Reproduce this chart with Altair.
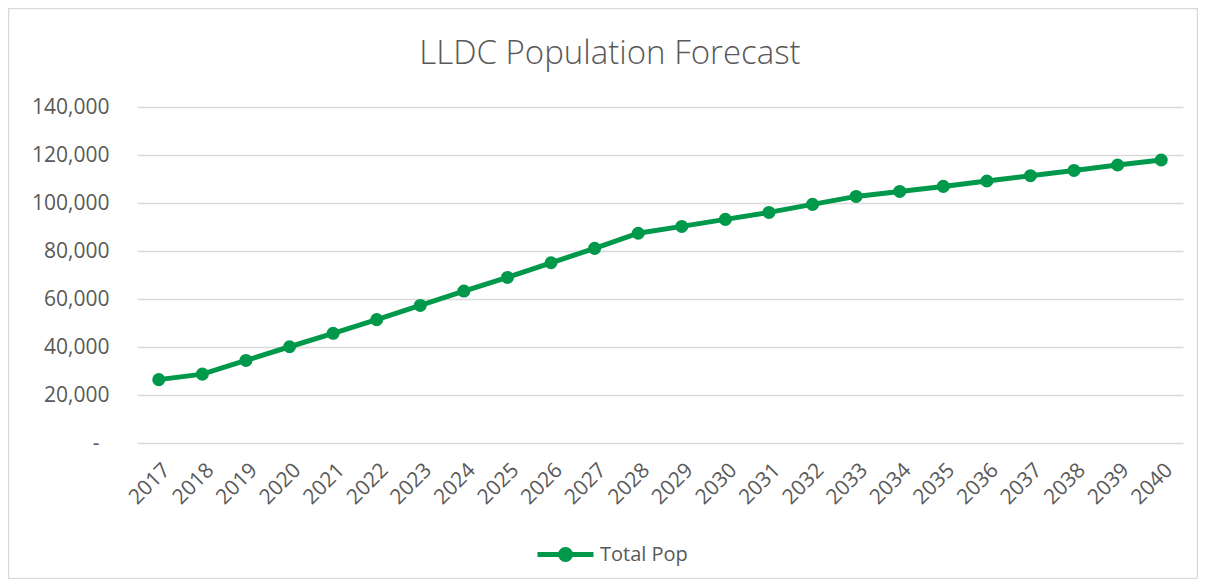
import altair as alt
import pandas as pd

years = [str(y) for y in range(2017, 2041)]
total_pop = [26400, 28700, 34400, 40100, 45700, 51400, 57300, 63300, 69000, 75100,
             81100, 87400, 90250, 93170, 96080, 99420, 102750, 104830, 106920, 109170,
             111375, 113580, 115830, 117920]
series = ["Total Pop"] * len(years)

df = pd.DataFrame({"Year": years, "Population": total_pop, "Series": series})

GREEN = "#00984A"
GREY = "#595959"
FONT = "Open Sans"

legend_path = "M-1,0H1M0.18,0A0.18,0.18,0,1,1,-0.18,0A0.18,0.18,0,1,1,0.18,0Z"

base = alt.Chart(df).encode(
    x=alt.X("Year:O", sort=years,
            scale=alt.Scale(type="point", padding=0.5),
            axis=alt.Axis(title=None, labelAngle=-45, labelAlign="right",
                          labelBaseline="top", labelPadding=16, ticks=False,
                          domain=False, grid=False, labelFontSize=21, labelColor=GREY,
                          labelFont=FONT)),
    y=alt.Y("Population:Q",
            scale=alt.Scale(domain=[0, 140000], nice=False),
            axis=alt.Axis(title=None, values=[0, 20000, 40000, 60000, 80000, 100000, 120000, 140000],
                          labelExpr="datum.value == 0 ? '-' : format(datum.value, ',')",
                          ticks=False, domain=False,
                          labelPadding={"condition": {"test": "datum.value === 0", "value": 38},
                                        "value": 28},
                          labelFontSize=21,
                          labelColor=GREY, labelFont=FONT,
                          gridColor="#D9D9D9", gridWidth=1.3)),
    color=alt.Color("Series:N", scale=alt.Scale(range=[GREEN]),
                    legend=alt.Legend(title=None, orient="none", legendX=398, legendY=417,
                                      symbolType=legend_path, symbolSize=3136,
                                      symbolStrokeWidth=5, symbolFillColor=GREEN,
                                      symbolStrokeColor=GREEN, labelOffset=4,
                                      labelFontSize=20, labelColor=GREY,
                                      labelFont=FONT)),
)

frame = alt.Chart(pd.DataFrame({"f": [0]})).mark_rect(
    fill=None, stroke="#D9D9D9", strokeWidth=1.5
).encode(
    x=alt.value(-128.5), x2=alt.value(1046 + 14.5),
    y=alt.value(-98.5), y2=alt.value(336 + 135.5),
)

line = base.mark_line(strokeWidth=5)
points = base.mark_circle(size=170, opacity=1)

chart = (frame + line + points).properties(
    width=1046, height=336,
    title=alt.TitleParams("LLDC Population Forecast", fontSize=33, font=FONT,
                          fontWeight=300, color=GREY, anchor="middle", frame="group",
                          dx=-50, offset=-63),
    autosize=alt.AutoSizeParams(type="none"),
    padding={"left": 129, "top": 99, "right": 15, "bottom": 136},
).configure(background="white").configure_view(stroke="transparent", strokeWidth=0)

chart.save("out.html", embed_options={"renderer": "svg", "actions": False})
